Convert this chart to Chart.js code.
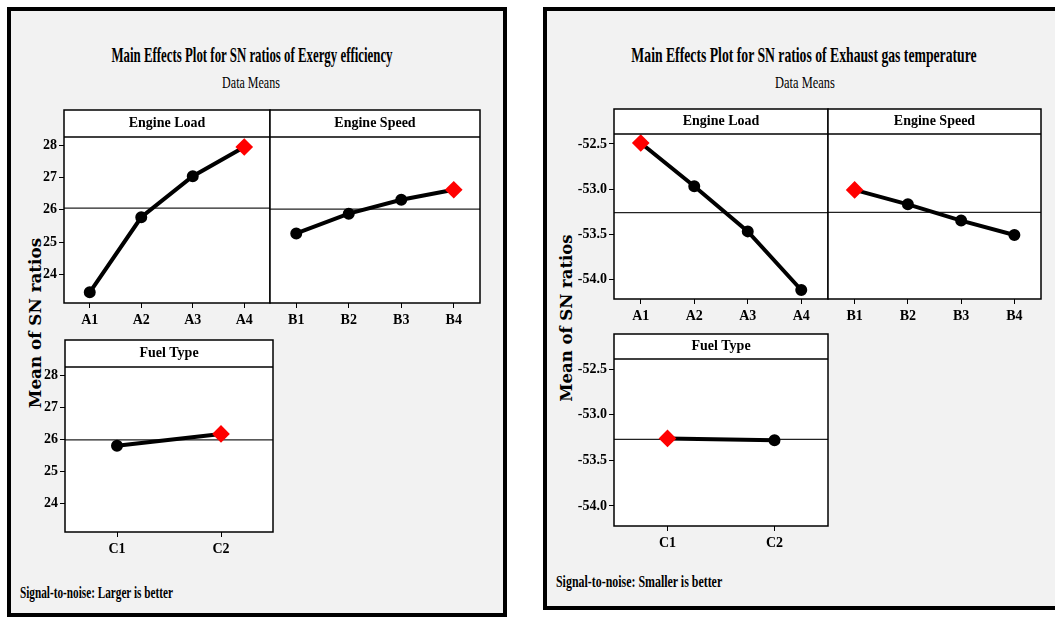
<!DOCTYPE html>
<html>
<head>
<meta charset="utf-8">
<script src="https://cdn.jsdelivr.net/npm/chart.js@4.4.0/dist/chart.umd.min.js"></script>
<style>
  html, body { margin: 0; padding: 0; background: #fff; }
  body { width: 1055px; height: 618px; position: relative; overflow: hidden; font-family: 'Liberation Serif', serif; color: #000; }
  .panel { position: absolute; box-sizing: border-box; background: #f2f2f2; border: 4px solid #000; }
  canvas { position: absolute; }
  .txt { position: absolute; white-space: nowrap; line-height: 1; }
  .title { font-weight: bold; font-size: 21px; }
  .sub { font-size: 17px; }
  .foot { font-weight: bold; font-size: 16px; transform-origin: 0 50%; }
  .ytitle { font-family: 'DejaVu Serif', serif; font-weight: bold; font-size: 16px; }
</style>
</head>
<body>
<div class="panel" style="left:7px;top:7px;width:500px;height:610px"></div>
<div class="panel" style="left:543px;top:7px;width:530px;height:603px"></div>

<div class="txt title" data-w="281" style="left:252px;top:55px">Main Effects Plot for SN ratios of Exergy efficiency</div>
<div class="txt sub" data-w="58" style="left:251px;top:82px">Data Means</div>
<div class="txt ytitle" data-w="170" style="left:36px;top:323px">Mean of SN ratios</div>
<div class="txt foot" data-w="153" style="left:20px;top:593px">Signal-to-noise: Larger is better</div>

<div class="txt title" data-w="345" style="left:804px;top:55px">Main Effects Plot for SN ratios of Exhaust gas temperature</div>
<div class="txt sub" data-w="60" style="left:805px;top:82px">Data Means</div>
<div class="txt ytitle" data-w="167" style="left:567px;top:318px">Mean of SN ratios</div>
<div class="txt foot" data-w="166" style="left:556px;top:582px">Signal-to-noise: Smaller is better</div>

<canvas id="exLoad" width="259" height="225" style="left:14px;top:108px"></canvas>
<canvas id="exSpeed" width="215" height="225" style="left:268px;top:108px"></canvas>
<canvas id="exFuel" width="261" height="224" style="left:15px;top:338px"></canvas>

<canvas id="egLoad" width="272" height="222" style="left:559px;top:107px"></canvas>
<canvas id="egSpeed" width="218" height="222" style="left:826px;top:107px"></canvas>
<canvas id="egFuel" width="272" height="224" style="left:559px;top:332px"></canvas>

<script>
// factor levels
const loadLabels = ['A1', 'A2', 'A3', 'A4'];
const speedLabels = ['B1', 'B2', 'B3', 'B4'];
const fuelLabels = ['C1', 'C2'];

// mean SN ratios, exergy efficiency (larger is better)
const exergyLoad = [23.45, 25.77, 27.04, 27.94];
const exergySpeed = [25.27, 25.88, 26.31, 26.62];
const exergyFuel = [25.80, 26.17];
const exergyTicks = [24, 25, 26, 27, 28];

// mean SN ratios, exhaust gas temperature (smaller is better)
const exhaustLoad = [-52.49, -52.97, -53.47, -54.12];
const exhaustSpeed = [-53.01, -53.17, -53.35, -53.51];
const exhaustFuel = [-53.26, -53.28];
const exhaustTicks = [-52.5, -53.0, -53.5, -54.0];

const tickFont = { family: 'Liberation Serif', weight: 'bold', size: 14 };

// white header strip + frame around each facet
const facetFrame = {
  id: 'facetFrame',
  beforeDraw(chart) {
    const { ctx, chartArea: a } = chart;
    const top = chart.titleBlock.top;
    ctx.save();
    ctx.fillStyle = '#fff';
    ctx.fillRect(a.left, top, a.right - a.left, a.bottom - top);
    ctx.restore();
  },
  afterDraw(chart) {
    const { ctx, chartArea: a } = chart;
    const top = chart.titleBlock.top;
    ctx.save();
    ctx.strokeStyle = '#000';
    ctx.lineWidth = 1.5;
    ctx.strokeRect(a.left, top, a.right - a.left, a.bottom - top);
    ctx.beginPath();
    ctx.moveTo(a.left, a.top);
    ctx.lineTo(a.right, a.top);
    ctx.stroke();
    ctx.restore();
  }
};

function makePlot(id, name, labels, values, yMin, yMax, yTicks, showY, yW, headerH, fmt) {
  const n = labels.length;
  const mean = values.reduce((a, b) => a + b, 0) / n;
  const best = values.indexOf(Math.max(...values));
  const isBest = values.map((v, i) => i === best);

  return new Chart(document.getElementById(id), {
    type: 'line',
    data: {
      datasets: [{
        data: values.map((v, i) => ({ x: i + 1, y: v })),
        borderColor: '#000',
        borderWidth: 4,
        pointStyle: isBest.map(b => b ? 'rectRot' : 'circle'),
        pointRadius: isBest.map(b => b ? 6 : 4),
        pointBackgroundColor: isBest.map(b => b ? '#ff0000' : '#000'),
        pointBorderColor: isBest.map(b => b ? '#ff0000' : '#000'),
        order: 1
      }, {
        // grand mean reference line
        data: [{ x: 0.5, y: mean }, { x: n + 0.5, y: mean }],
        borderColor: '#222',
        borderWidth: 1.2,
        pointRadius: 0,
        order: 2
      }]
    },
    options: {
      responsive: false,
      animation: false,
      devicePixelRatio: 1,
      layout: { autoPadding: false, padding: { top: 2, right: 3, bottom: 0, left: showY ? 0 : 2 } },
      plugins: {
        legend: { display: false },
        tooltip: { enabled: false },
        title: {
          display: true,
          text: name,
          fullSize: false,
          padding: 0,
          color: '#000',
          font: { family: 'Liberation Serif', weight: 'bold', size: 14, lineHeight: headerH + 'px' }
        }
      },
      scales: {
        x: {
          type: 'linear',
          min: 0.5,
          max: n + 0.5,
          afterBuildTicks: s => { s.ticks = labels.map((l, i) => ({ value: i + 1 })); },
          afterFit: s => { s.height = 30; s.paddingLeft = 0; s.paddingRight = 0; },
          border: { display: false },
          grid: { drawOnChartArea: false, drawTicks: true, tickLength: 5, color: '#000' },
          ticks: { callback: v => labels[v - 1], color: '#000', padding: 4, maxRotation: 0, autoSkip: false, font: tickFont }
        },
        y: {
          display: showY,
          min: yMin,
          max: yMax,
          afterBuildTicks: s => { s.ticks = yTicks.map(v => ({ value: v })); },
          afterFit: s => { s.width = yW; s.paddingTop = 0; s.paddingBottom = 0; },
          border: { display: false },
          grid: { drawOnChartArea: false, drawTicks: true, tickLength: 5, color: '#000' },
          ticks: { callback: fmt, color: '#000', padding: 2, font: tickFont }
        }
      }
    },
    plugins: [facetFrame]
  });
}

const fmtInt = v => String(v);
const fmtDec = v => v.toFixed(1);

makePlot('exLoad', 'Engine Load', loadLabels, exergyLoad, 23.12, 28.25, exergyTicks, true, 50, 27, fmtInt);
makePlot('exSpeed', 'Engine Speed', speedLabels, exergySpeed, 23.12, 28.25, exergyTicks, false, 0, 27, fmtInt);
makePlot('exFuel', 'Fuel Type', fuelLabels, exergyFuel, 23.12, 28.25, exergyTicks, true, 50, 27, fmtInt);

makePlot('egLoad', 'Engine Load', loadLabels, exhaustLoad, -54.22, -52.39, exhaustTicks, true, 55, 25, fmtDec);
makePlot('egSpeed', 'Engine Speed', speedLabels, exhaustSpeed, -54.22, -52.39, exhaustTicks, false, 0, 25, fmtDec);
makePlot('egFuel', 'Fuel Type', fuelLabels, exhaustFuel, -54.22, -52.39, exhaustTicks, true, 55, 25, fmtDec);

// squeeze the html texts to the reference widths
document.querySelectorAll('.txt').forEach(el => {
  const s = el.dataset.w ? (+el.dataset.w / el.offsetWidth) : 1;
  if (el.classList.contains('foot')) {
    el.style.transform = 'translateY(-50%) scaleX(' + s + ')';
  } else if (el.classList.contains('ytitle')) {
    el.style.transform = 'translate(-50%,-50%) rotate(-90deg) scaleX(' + s + ')';
  } else {
    el.style.transform = 'translate(-50%,-50%) scaleX(' + s + ')';
  }
});
</script>
</body>
</html>
